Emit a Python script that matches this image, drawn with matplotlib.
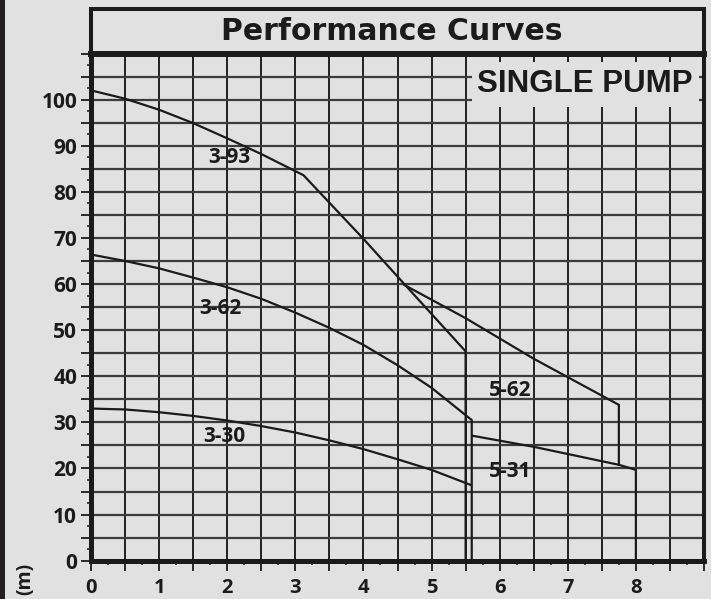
import matplotlib
matplotlib.use("Agg")
import matplotlib.pyplot as plt
from matplotlib.patches import Rectangle
from matplotlib.ticker import FixedLocator, MultipleLocator
import numpy as np

BG = "#e1e1e1"
INK = "#1b1b1b"
LABEL_FONT = "Open Sans"

# ── data (flow m3/h vs head m) ───────────────────────────────────────────────
flow_393 = [0, 0.5, 1, 1.5, 2, 2.5, 3.12, 4, 4.6, 5.5, 5.5]
head_393 = [102, 100.2, 97.8, 94.9, 91.6, 88.2, 83.6, 69.8, 60.0, 45.4, 0]

flow_362 = [0, 0.5, 1, 1.5, 2, 2.5, 3, 3.5, 4, 4.5, 5, 5.59, 5.59]
head_362 = [66.4, 65.0, 63.4, 61.4, 59.3, 56.8, 53.8, 50.5, 46.8, 42.4, 37.5, 30.5, 0]

flow_330 = [0, 0.5, 1, 1.5, 2, 2.5, 3, 3.5, 4, 4.5, 5, 5.58]
head_330 = [33.0, 32.8, 32.2, 31.4, 30.4, 29.2, 27.8, 26.1, 24.2, 22.0, 19.7, 16.4]

flow_562 = [4.6, 5.5, 6.5, 7.0, 7.75, 7.75]
head_562 = [59.8, 52.6, 43.8, 39.8, 33.8, 20.8]

flow_531 = [5.6, 6.5, 7.75, 8.0, 8.0]
head_531 = [27.1, 24.7, 20.8, 19.7, 0]

curve_names = ["3-93", "3-62", "3-30", "5-62", "5-31"]
label_x = [2.03, 1.9, 1.96, 6.16, 6.15]
label_y = [87.4, 54.8, 27.0, 36.9, 19.3]

x_labels = ["0", "1", "2", "3", "4", "5", "6", "7", "8"]
y_labels = ["0", "10", "20", "30", "40", "50", "60", "70", "80", "90", "100"]

# ── figure ───────────────────────────────────────────────────────────────────
fig = plt.figure(figsize=(7.11, 5.99), dpi=100, facecolor=BG)
W, H = 711, 599
ax = fig.add_axes([91 / W, 1 - 560.7 / H, (704 - 91) / W, (560.7 - 53.5) / H])
ax.set_facecolor(BG)
ax.set_xlim(0, 9)
ax.set_ylim(0, 110)

# grid
for xv in np.arange(0.5, 9, 0.5):
    ax.axvline(xv, color="#111111", lw=1.3, zorder=0.5)
for yv in np.arange(5, 110, 5):
    ax.axhline(yv, color="#3c3c3c", lw=1.6, zorder=0.5)

# box behind "SINGLE PUMP"
ax.add_patch(Rectangle((5.60, 98.5), 3.33, 9.7, facecolor=BG, edgecolor="none", zorder=1))
ax.text(7.25, 101.7, "SINGLE PUMP", ha="center", va="baseline",
        fontsize=22.5, fontweight="bold", family="Liberation Sans", color=INK, zorder=3)

for fx, hy in [(flow_393, head_393), (flow_362, head_362), (flow_330, head_330),
               (flow_562, head_562), (flow_531, head_531)]:
    ax.plot(fx, hy, color=INK, lw=1.6, zorder=2, solid_joinstyle="miter")

for name, lx, ly in zip(curve_names, label_x, label_y):
    ax.text(lx, ly, name, ha="center", va="center", fontsize=15,
            fontweight="bold", family=LABEL_FONT, color=INK, zorder=3)

# ticks
major_x = np.arange(0, 9.01, 0.5)
ax.xaxis.set_major_locator(FixedLocator(major_x))
ax.set_xticklabels([x_labels[int(v)] if v == int(v) and v <= 8 else "" for v in major_x])
ax.xaxis.set_minor_locator(MultipleLocator(0.25))
major_y = np.arange(0, 110.1, 5)
ax.yaxis.set_major_locator(FixedLocator(major_y))
ax.set_yticklabels([y_labels[int(v) // 10] if v % 10 == 0 and v <= 100 else "" for v in major_y])
ax.yaxis.set_minor_locator(MultipleLocator(2.5))

ax.tick_params(which="major", length=7, width=1.3, color=INK, direction="out")
ax.tick_params(which="minor", length=3, width=1.1, color=INK, direction="out")
ax.tick_params(axis="y", which="major", pad=3, labelsize=15)
ax.tick_params(axis="x", which="major", pad=5.5, labelsize=14.5)
for lab in ax.get_xticklabels() + ax.get_yticklabels():
    lab.set_fontfamily(LABEL_FONT)
    lab.set_fontweight("bold")
    lab.set_color(INK)

for side, lw in [("left", 3.6), ("bottom", 3.6), ("right", 2.9), ("top", 4.3)]:
    ax.spines[side].set_linewidth(lw)
    ax.spines[side].set_color(INK)

# title box
fig.patches.append(Rectangle((90.5 / W, 1 - 53.5 / H), (703.5 - 90.5) / W, (53.5 - 9.5) / H,
                             transform=fig.transFigure, facecolor="none",
                             edgecolor=INK, lw=2.9))
fig.text(391.5 / W, 1 - 40 / H, "Performance Curves", ha="center", va="baseline",
         fontsize=21.5, fontweight="heavy", family="DejaVu Sans", color=INK)

# dark strip at left edge and cut-off axis label
fig.patches.append(Rectangle((0, 0), 4.5 / W, 1, transform=fig.transFigure,
                             facecolor="#231f20", edgecolor="none"))
fig.text(25 / W, 1 - 563 / H, "(m)", rotation=90, ha="center", va="top",
         fontsize=14, fontweight="bold", family=LABEL_FONT, color=INK)

fig.savefig("out.png", dpi=100, facecolor=BG)
